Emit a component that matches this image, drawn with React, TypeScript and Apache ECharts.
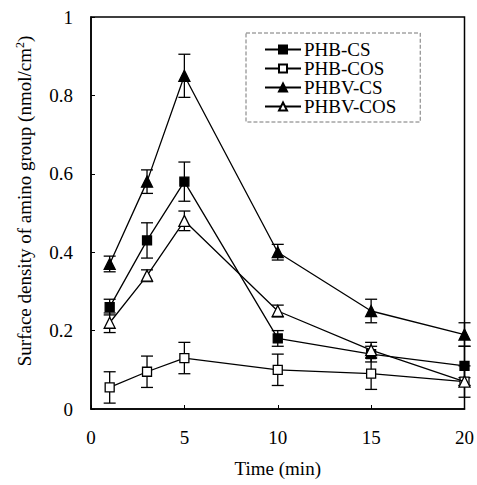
import React, { useEffect, useRef } from "react";
import * as echarts from "echarts";

const times = [1, 3, 5, 10, 15, 20];
const phbCs = [0.26, 0.43, 0.58, 0.18, 0.14, 0.11];
const phbCsErr = [0.02, 0.045, 0.05, 0.02, 0.02, 0.05];
const phbCos = [0.055, 0.095, 0.13, 0.1, 0.09, 0.07];
const phbCosErr = [0.04, 0.04, 0.04, 0.04, 0.04, 0.04];
const phbvCs = [0.37, 0.58, 0.85, 0.4, 0.25, 0.19];
const phbvCsErr = [0.02, 0.03, 0.055, 0.02, 0.03, 0.03];
const phbvCos = [0.22, 0.34, 0.48, 0.25, 0.15, 0.07];
const phbvCosErr = [0.025, 0.015, 0.025, 0.015, 0.02, 0.01];

const seriesNames = ["PHB-CS", "PHB-COS", "PHBV-CS", "PHBV-COS"];
const FONT = "'Liberation Serif', 'Times New Roman', serif";

export default function App() {
  const ref = useRef<HTMLDivElement>(null);
  useEffect(() => {
    if (!ref.current) return;
    const chart = echarts.init(ref.current, null, { renderer: "svg" });
    const sets = [
      { name: seriesNames[0], v: phbCs, e: phbCsErr, symbol: "rect", size: 9, fill: "#000" },
      { name: seriesNames[1], v: phbCos, e: phbCosErr, symbol: "rect", size: 9, fill: "#fff" },
      { name: seriesNames[2], v: phbvCs, e: phbvCsErr, symbol: "triangle", size: 11, fill: "#000" },
      { name: seriesNames[3], v: phbvCos, e: phbvCosErr, symbol: "triangle", size: 11, fill: "#fff" },
    ];
    const series: any[] = [];
    sets.forEach((s, si) => {
      series.push({
        type: "custom",
        name: s.name + "-err",
        silent: true,
        z: 1,
        data: times.map((t, i) => [t, s.v[i] - s.e[i], s.v[i] + s.e[i]]),
        encode: { x: 0, y: [1, 2] },
        renderItem: (params: any, api: any) => {
          const x = api.value(0);
          const lo = api.coord([x, api.value(1)]);
          const hi = api.coord([x, api.value(2)]);
          const w = 6;
          const style = { stroke: "#000", lineWidth: 1.3 };
          return {
            type: "group",
            children: [
              { type: "line", shape: { x1: lo[0], y1: lo[1], x2: hi[0], y2: hi[1] }, style },
              { type: "line", shape: { x1: lo[0] - w, y1: lo[1], x2: lo[0] + w, y2: lo[1] }, style },
              { type: "line", shape: { x1: hi[0] - w, y1: hi[1], x2: hi[0] + w, y2: hi[1] }, style },
            ],
          };
        },
      });
      series.push({
        type: "line",
        name: s.name,
        z: 3 + si,
        data: times.map((t, i) => [t, s.v[i]]),
        symbol: s.symbol,
        symbolSize: s.size,
        showSymbol: true,
        lineStyle: { color: "#000", width: 1.3 },
        itemStyle: { color: s.fill, borderColor: "#000", borderWidth: 1.3 },
      });
    });
    chart.setOption({
      animation: false,
      backgroundColor: "#fff",
      grid: {
        left: 91,
        right: 10,
        top: 17,
        bottom: 76,
        show: true,
        borderColor: "#000",
        borderWidth: 1.5,
      },
      legend: {
        data: seriesNames.map((n) => ({ name: n })),
        orient: "vertical",
        left: 246,
        top: 33,
        itemWidth: 36,
        itemHeight: 10,
        itemGap: 0,
        padding: [7, 24, 6, 18],
        borderColor: "#777",
        borderWidth: 1,
        borderType: "dashed",
        backgroundColor: "#fff",
        textStyle: { fontFamily: FONT, fontSize: 19, color: "#000", lineHeight: 16, padding: [0, 0, 0, -2] },
      },
      xAxis: {
        type: "value",
        min: 0,
        max: 20,
        interval: 5,
        name: "Time (min)",
        nameLocation: "middle",
        nameGap: 50,
        nameTextStyle: { fontFamily: FONT, fontSize: 19, color: "#000" },
        axisLine: { show: true, lineStyle: { color: "#000", width: 1.5 } },
        axisTick: { show: true, inside: true, length: 4, lineStyle: { color: "#000" } },
        axisLabel: { fontFamily: FONT, fontSize: 19, color: "#000", margin: 19 },
        splitLine: { show: false },
      },
      yAxis: {
        type: "value",
        min: 0,
        max: 1,
        interval: 0.2,
        name: "{a|Surface density of amino group (nmol/cm}{s|2}{a|)}",
        nameLocation: "middle",
        nameGap: 56,
        nameTextStyle: {
          fontFamily: FONT,
          fontSize: 19,
          color: "#000",
          padding: [0, 0, 0, 24],
          rich: {
            a: { fontFamily: FONT, fontSize: 19, color: "#000" },
            s: { fontFamily: FONT, fontSize: 12, color: "#000", verticalAlign: "top", padding: [0, 0, 9, 0] },
          },
        },
        axisLine: { show: true, lineStyle: { color: "#000", width: 1.5 } },
        axisTick: { show: true, inside: true, length: 4, lineStyle: { color: "#000" } },
        axisLabel: { fontFamily: FONT, fontSize: 19, color: "#000", margin: 18 },
        splitLine: { show: false },
      },
      series,
    });
    return () => chart.dispose();
  }, []);
  return <div ref={ref} style={{ width: 477, height: 485, position: "absolute", left: 0, top: 0 }} />;
}
